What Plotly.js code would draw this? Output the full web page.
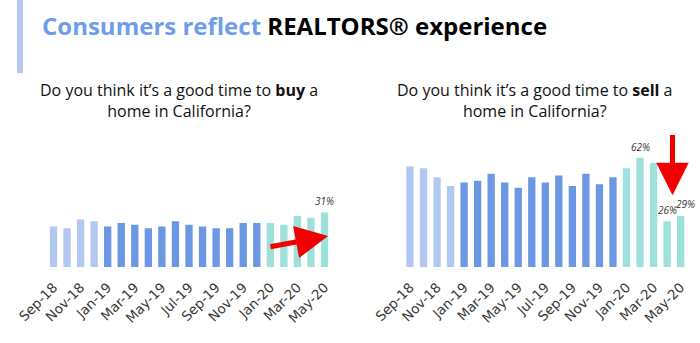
<!DOCTYPE html>
<html><head><meta charset="utf-8">
<script src="https://cdn.plot.ly/plotly-3.0.1.min.js"></script>
<style>html,body{margin:0;padding:0;background:#fff}#c{width:700px;height:343px}</style>
</head><body><div id="c"></div>
<script>
const months = ["Sep-18","Oct-18","Nov-18","Dec-18","Jan-19","Feb-19","Mar-19","Apr-19","May-19","Jun-19","Jul-19","Aug-19","Sep-19","Oct-19","Nov-19","Dec-19","Jan-20","Feb-20","Mar-20","Apr-20","May-20"];
const tickLabels = ["Sep-18","Nov-18","Jan-19","Mar-19","May-19","Jul-19","Sep-19","Nov-19","Jan-20","Mar-20","May-20"];
const buyValues = [23,22,27,26,23,25,24,22,23,26,24,23,22,22,25,25,25,24,29,28,31];
const sellValues = [57,56,51,46,48,49,53,48,45,51,48,52,46,53,47,51,56,62,59,26,29];
const buyLabelled = ["May-20"];
const sellLabelled = ["Feb-20","Apr-20","May-20"];

function colorFor(m){
  const yr = m.slice(-2);
  if (yr === "18") return "#b3c8f1";
  if (yr === "19") return "#6b97e3";
  return "#9ee0db";
}

const FONT = "'Open Sans', Lato, sans-serif";
const traces = [
  {type:"bar", x:months, y:buyValues, xaxis:"x", yaxis:"y",
   marker:{color:months.map(colorFor)}, hoverinfo:"skip"},
  {type:"bar", x:months, y:sellValues, xaxis:"x2", yaxis:"y2",
   marker:{color:months.map(colorFor)}, hoverinfo:"skip"}
];

function valueLabels(vals, lab, xr, yr){
  return lab.map((m, k) => {
    const i = months.indexOf(m);
    const crowded = k > 0 && months.indexOf(lab[k-1]) === i - 1;
    return {xref:xr, yref:yr, x:m, y:vals[i], xanchor:"center", yanchor:"bottom", showarrow:false,
      text:"<i>" + vals[i] + "%</i>", yshift: crowded ? 3 : 2, xshift: crowded ? 5 : 0,
      font:{size:10, color:"#333", family:FONT}};
  });
}

const xBase = {type:"category", range:[-0.5, months.length-0.5], tickmode:"array", tickvals:tickLabels, ticktext:tickLabels,
  tickangle:-45, tickfont:{size:13.5, color:"#3a3a3a", family:"'DejaVu Sans', sans-serif"},
  ticklabelstandoff:9, automargin:false,
  showgrid:false, zeroline:false, showline:false, ticks:"", fixedrange:true};
const yBase = {range:[0,70], visible:false, showgrid:false, zeroline:false, fixedrange:true, automargin:false};

const iJan20 = months.indexOf("Jan-20"), iMay20 = months.indexOf("May-20");
const layout = {
  width:700, height:343, margin:{l:0,r:0,t:0,b:0}, paper_bgcolor:"#fff", plot_bgcolor:"#fff",
  showlegend:false, bargap:0.46,
  font:{family:FONT},
  xaxis:Object.assign({domain:[0.0667,0.4733], anchor:"y"}, xBase),
  yaxis:Object.assign({domain:[0.2216,0.581], anchor:"x"}, yBase),
  xaxis2:Object.assign({domain:[0.576,0.982], anchor:"y2"}, xBase),
  yaxis2:Object.assign({domain:[0.2216,0.581], anchor:"x2"}, yBase),
  shapes:[{type:"rect", xref:"paper", yref:"paper", x0:17/700, x1:23/700, y0:(343-73)/343, y1:1,
    fillcolor:"#b3c8f1", line:{width:0}}],
  annotations:[
    {xref:"paper", yref:"paper", x:40/700, y:(343-25)/343, xanchor:"left", yanchor:"middle", showarrow:false,
     text:"<b><span style='color:#6f9de8'>Consumers reflect</span> REALTORS® experience</b>",
     font:{size:24, color:"#000", family:FONT}},
    {xref:"paper", yref:"paper", x:179/700, y:(343-101)/343, xanchor:"center", yanchor:"middle", showarrow:false, align:"center",
     text:"Do you think it’s a good time to <b>buy</b> a<br>home in California?",
     font:{size:16, color:"#111", family:FONT}},
    {xref:"paper", yref:"paper", x:535/700, y:(343-101)/343, xanchor:"center", yanchor:"middle", showarrow:false, align:"center",
     text:"Do you think it’s a good time to <b>sell</b> a<br>home in California?",
     font:{size:16, color:"#111", family:FONT}},
    {xref:"x", yref:"y", axref:"x", ayref:"y", x:iMay20+0.26, y:17.6, ax:iJan20-0.1, ay:11.3,
     showarrow:true, arrowhead:2, arrowsize:1.3, arrowwidth:5, arrowcolor:"#f00000", text:""},
    {xref:"x2", yref:"y2", axref:"x2", ayref:"y2", x:iMay20-0.6, y:40.7, ax:iMay20-0.6, ay:75.8,
     showarrow:true, arrowhead:2, arrowsize:1.3, arrowwidth:5, arrowcolor:"#f00000", text:""}
  ].concat(valueLabels(buyValues, buyLabelled, "x", "y"), valueLabels(sellValues, sellLabelled, "x2", "y2"))
};
Plotly.newPlot("c", traces, layout, {staticPlot:true, displayModeBar:false});
</script></body></html>
